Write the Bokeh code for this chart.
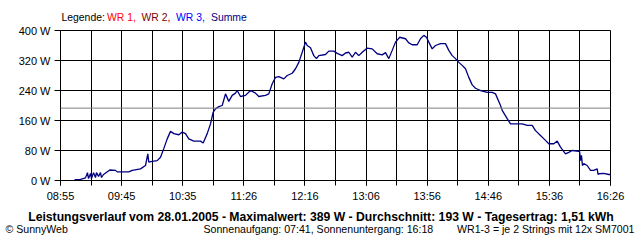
from bokeh.plotting import figure
from bokeh.layouts import column
from bokeh.models import Range1d, FixedTicker, PrintfTickFormatter, Span, Label
from bokeh.embed import file_html
from bokeh.resources import INLINE

# time in minutes since midnight, power in W (Summe)
t_min = [546.5, 551.4, 555.5, 557.1, 558.0, 559.6, 560.4, 562.1, 563.7, 564.5, 566.2,
         567.8, 568.6, 570.3, 575.4, 580.1, 581.5, 591.0, 593.8, 600.6, 604.7, 606.6,
         607.4, 610.2, 614.3, 617.0, 619.7, 622.5, 625.2, 627.9, 632.0, 634.8, 637.5,
         640.2, 644.3, 649.8, 652.0, 655.3, 658.0, 660.2, 662.1, 664.8, 667.6, 670.3,
         673.0, 675.8, 678.5, 679.9, 682.6, 686.7, 690.8, 694.9, 697.6, 703.1, 705.8,
         708.6, 711.3, 714.0, 718.1, 720.9, 725.0, 727.7, 730.4, 733.2, 735.9, 737.3,
         740.0, 742.7, 744.9, 746.8, 752.3, 755.0, 759.1, 761.9, 766.0, 768.7, 771.4,
         774.2, 776.9, 779.6, 782.4, 786.5, 790.6, 794.7, 798.8, 801.5, 804.2, 807.0,
         809.7, 813.2, 817.9, 820.6, 823.4, 827.5, 830.2, 832.9, 835.1, 837.0, 839.8,
         842.5, 846.6, 850.7, 853.4, 856.2, 858.9, 861.6, 864.4, 867.1, 869.8, 872.6,
         875.3, 879.4, 884.9, 889.0, 891.7, 895.8, 897.2, 901.3, 904.0, 909.5, 913.6,
         917.7, 921.8, 924.5, 928.6, 932.7, 935.4, 939.5, 942.3, 945.0, 949.1, 951.8,
         954.6, 960.0, 960.6, 961.4, 962.2, 963.0, 964.1, 966.9, 969.6, 972.3, 975.1,
         975.8, 976.5, 980.5, 984.6, 986.0]
summe_w = [2, 3, 7, 21, 5, 19, 5, 21, 8, 21, 11,
           21, 8, 16, 28, 27, 23, 23, 27, 31, 40, 71,
           49, 51, 53, 62, 85, 111, 131, 125, 122, 129, 125,
           111, 105, 105, 100, 125, 151, 182, 191, 197, 200, 231,
           211, 227, 233, 240, 224, 227, 240, 233, 224, 227, 231,
           258, 275, 277, 271, 280, 286, 298, 315, 342, 369, 360,
           354, 333, 325, 333, 336, 345, 345, 339, 333, 340, 342,
           329, 342, 333, 342, 353, 351, 338, 335, 341, 325, 347,
           369, 382, 378, 367, 362, 362, 378, 387, 382, 369, 351,
           360, 365, 365, 347, 333, 325, 315, 307, 298, 275, 255,
           246, 240, 235, 235, 231, 200, 187, 165, 151, 151, 151,
           147, 147, 133, 120, 107, 98, 98, 105, 89, 71, 75,
           80, 78, 80, 53, 67, 40, 45, 40, 27, 27, 31,
           16, 18, 19, 16, 16]

average_w = 193
x_start, x_end = 535, 986          # 08:55 .. 16:26
x_major = [x_start + k * (x_end - x_start) / 9 for k in range(10)]
x_minor = [x_start + k * (x_end - x_start) / 18 for k in range(19)]
x_labels = ["08:55", "09:45", "10:35", "11:26", "12:16", "13:06", "13:56", "14:46", "15:36", "16:26"]
y_ticks = [0, 80, 160, 240, 320, 400]

legend_parts = [("Legende:", "#000000"), ("WR 1,", "#FF0000"), ("WR 2,", "#800000"),
                ("WR 3,", "#0000FF"), ("Summe", "#000080")]
title_text = "Leistungsverlauf vom 28.01.2005 - Maximalwert: 389 W - Durchschnitt: 193 W - Tagesertrag: 1,51 kWh"
copyright_text = "\u00a9 SunnyWeb"
sun_text = "Sonnenaufgang: 07:41, Sonnenuntergang: 16:18"
info_text = "WR1-3 = je 2 Strings mit 12x SM7001"

FONT = "Liberation Sans"
W = 640
TOP_H, MAIN_H = 24, 182
BOT_H = 240 - TOP_H - MAIN_H


def no_align(f):
    if "frame_align" in f.properties():
        f.frame_align = False


def text_panel(h):
    f = figure(width=W, height=h, output_backend="svg", toolbar_location=None,
               x_axis_location=None, y_axis_location=None,
               x_range=Range1d(0, W), y_range=Range1d(0, h),
               min_border=0, min_border_left=0, min_border_right=0,
               min_border_top=0, min_border_bottom=0)
    f.outline_line_color = None
    f.xgrid.visible = False
    f.ygrid.visible = False
    f.background_fill_color = "white"
    f.border_fill_color = "white"
    no_align(f)
    return f


def add_text(f, x, y, txt, color="black", align="left", bold=False, size="10.6px"):
    f.add_layout(Label(x=x, y=y, x_units="canvas", y_units="canvas", text=txt,
                       text_color=color, text_font=FONT, text_font_size=size,
                       text_font_style="bold" if bold else "normal",
                       text_baseline="middle", text_align=align))


# --- top: legend line ---
top = text_panel(TOP_H)
leg_x = [61, 106.5, 141, 175.5, 210.5]
for (txt, col), lx in zip(legend_parts, leg_x):
    add_text(top, lx, 16.7, txt, color=col, size="10.4px")

# --- main chart ---
p = figure(width=W, height=MAIN_H, output_backend="svg", toolbar_location=None,
           x_range=Range1d(x_start, x_end), y_range=Range1d(0, 400),
           min_border_left=60, min_border_right=30, min_border_top=6, min_border_bottom=26)
no_align(p)
p.background_fill_color = "white"
p.border_fill_color = "white"
p.outline_line_color = "black"
p.outline_line_width = 1

p.xaxis.ticker = FixedTicker(ticks=x_major, minor_ticks=x_minor)
p.xaxis.major_label_overrides = {v: lab for v, lab in zip(x_major, x_labels)}
p.yaxis.ticker = FixedTicker(ticks=y_ticks)
p.yaxis.formatter = PrintfTickFormatter(format="%d W")

for ax in (p.xaxis[0], p.yaxis[0]):
    ax.axis_line_color = "black"
    ax.major_tick_line_color = "black"
    ax.minor_tick_line_color = "black"
    ax.major_tick_in = 0
    ax.minor_tick_in = 0
    ax.major_label_text_font = FONT
    ax.major_label_text_font_size = "11px"
    ax.major_label_text_color = "black"
p.xaxis.major_tick_out = 5
p.xaxis.minor_tick_out = 5
p.xaxis.major_label_standoff = 4
p.yaxis.major_tick_out = 6
p.yaxis.minor_tick_out = 0
p.yaxis.major_label_standoff = 4

p.xgrid.grid_line_color = "black"
p.xgrid.minor_grid_line_color = "black"
p.ygrid.grid_line_color = "black"

p.add_layout(Span(location=average_w, dimension="width", line_color="#808080", line_width=1))
p.line(t_min, summe_w, line_color="#000080", line_width=1.3)

# --- bottom: title and info line ---
bot = text_panel(BOT_H)
y0 = TOP_H + MAIN_H
add_text(bot, 320.5, 216.5 - y0, title_text, bold=True, align="center", size="12.2px")
add_text(bot, 5, 228 - y0, copyright_text)
add_text(bot, 203, 228 - y0, sun_text)
add_text(bot, 634, 228 - y0, info_text, align="right")

layout = column(top, p, bot, spacing=0)
open("out.html", "w").write(file_html(layout, INLINE))
